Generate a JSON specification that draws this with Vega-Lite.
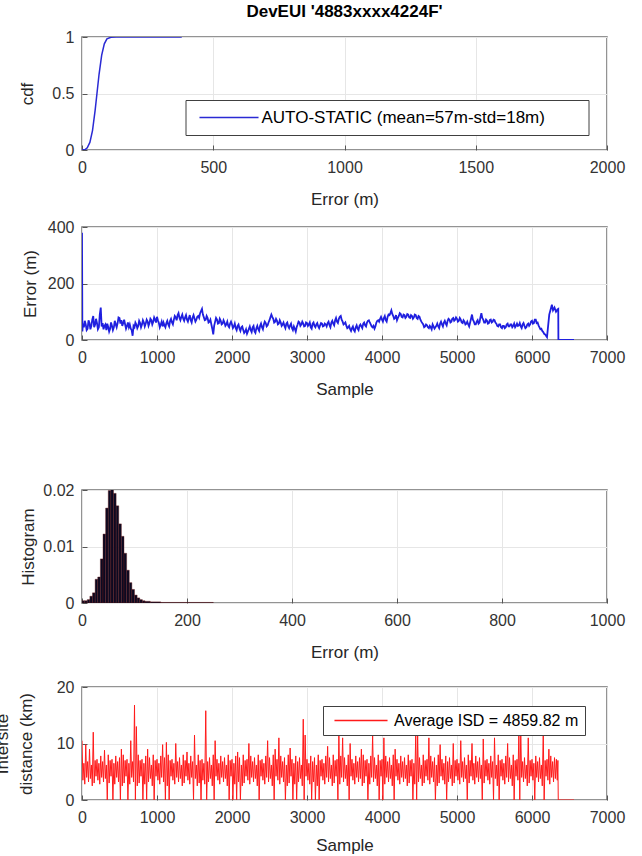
{
  "$schema": "https://vega.github.io/schema/vega-lite/v6.json",
  "padding": {"left": -8, "top": 2, "right": 5, "bottom": 0},
  "background": "white",
  "config": {
    "font": "Liberation Sans",
    "view": {"stroke": "#707070", "strokeWidth": 1.5},
    "axis": {
      "labelFont": "Liberation Sans", "labelFontSize": 16, "labelColor": "#333333",
      "titleFont": "Liberation Sans", "titleFontSize": 17, "titleFontWeight": "normal", "titleColor": "#262626",
      "domain": false, "grid": true, "gridColor": "#e6e6e6", "gridWidth": 1,
      "ticks": true, "tickSize": -5, "tickColor": "#555555", "tickWidth": 1,
      "labelFlush": false, "labelOverlap": false
    },
    "axisX": {"labelPadding": 14, "titlePadding": 16},
    "axisY": {"labelPadding": 13},
    "legend": {
      "orient": "none", "fillColor": "white", "strokeColor": "#404040",
      "symbolType": "M-4,0H4", "symbolStrokeWidth": 1.5, "labelFont": "Liberation Sans",
      "labelColor": "#000000", "labelLimit": 600
    },
    "title": {"font": "Liberation Sans", "fontSize": 17, "fontWeight": "bold", "color": "#000000", "offset": 8}
  },
  "datasets": {
    "cdf": [
      {"e": 0, "c": 0}, {"e": 12, "c": 0.004}, {"e": 20, "c": 0.02}, {"e": 30, "c": 0.067},
      {"e": 40, "c": 0.172}, {"e": 50, "c": 0.35}, {"e": 57, "c": 0.5}, {"e": 65, "c": 0.67},
      {"e": 75, "c": 0.84}, {"e": 85, "c": 0.94}, {"e": 95, "c": 0.983}, {"e": 110, "c": 0.998},
      {"e": 130, "c": 1}, {"e": 380, "c": 1}
    ],
    "err": [
      {"s":0,"v":380},{"s":5,"v":30},{"s":12,"v":58},{"s":25,"v":45},{"s":37,"v":68},{"s":50,"v":55},{"s":62,"v":35},{"s":75,"v":40},{"s":87,"v":70},{"s":100,"v":60},
      {"s":112,"v":38},{"s":125,"v":50},{"s":137,"v":72},{"s":150,"v":85},{"s":162,"v":45},{"s":175,"v":55},{"s":187,"v":75},{"s":200,"v":60},{"s":212,"v":38},{"s":225,"v":45},
      {"s":237,"v":90},{"s":250,"v":115},{"s":262,"v":48},{"s":275,"v":60},{"s":287,"v":38},{"s":300,"v":50},{"s":312,"v":55},{"s":325,"v":35},{"s":337,"v":58},{"s":350,"v":45},
      {"s":362,"v":30},{"s":375,"v":40},{"s":387,"v":62},{"s":400,"v":50},{"s":412,"v":35},{"s":425,"v":45},{"s":437,"v":68},{"s":450,"v":55},{"s":462,"v":45},{"s":475,"v":60},
      {"s":487,"v":80},{"s":500,"v":78},{"s":512,"v":58},{"s":525,"v":70},{"s":537,"v":50},{"s":550,"v":60},{"s":562,"v":72},{"s":575,"v":55},{"s":587,"v":40},{"s":600,"v":50},
      {"s":612,"v":62},{"s":625,"v":45},{"s":637,"v":55},{"s":650,"v":40},{"s":662,"v":35},{"s":675,"v":15},{"s":687,"v":50},{"s":700,"v":45},{"s":712,"v":62},{"s":725,"v":55},
      {"s":737,"v":42},{"s":750,"v":50},{"s":762,"v":68},{"s":775,"v":60},{"s":787,"v":45},{"s":800,"v":55},{"s":812,"v":70},{"s":825,"v":62},{"s":837,"v":48},{"s":850,"v":58},
      {"s":862,"v":72},{"s":875,"v":65},{"s":887,"v":50},{"s":900,"v":60},{"s":912,"v":75},{"s":925,"v":70},{"s":937,"v":55},{"s":950,"v":65},{"s":962,"v":80},{"s":975,"v":72},
      {"s":987,"v":62},{"s":1000,"v":82},{"s":1012,"v":70},{"s":1025,"v":60},{"s":1037,"v":45},{"s":1050,"v":55},{"s":1062,"v":65},{"s":1075,"v":48},{"s":1087,"v":62},{"s":1100,"v":52},
      {"s":1112,"v":45},{"s":1125,"v":60},{"s":1137,"v":68},{"s":1150,"v":55},{"s":1162,"v":48},{"s":1175,"v":68},{"s":1187,"v":75},{"s":1200,"v":62},{"s":1212,"v":55},{"s":1225,"v":72},
      {"s":1237,"v":85},{"s":1250,"v":80},{"s":1262,"v":70},{"s":1275,"v":88},{"s":1287,"v":95},{"s":1300,"v":78},{"s":1312,"v":70},{"s":1325,"v":82},{"s":1337,"v":90},{"s":1350,"v":75},
      {"s":1362,"v":68},{"s":1375,"v":80},{"s":1387,"v":88},{"s":1400,"v":72},{"s":1412,"v":65},{"s":1425,"v":78},{"s":1437,"v":88},{"s":1450,"v":70},{"s":1462,"v":62},{"s":1475,"v":80},
      {"s":1487,"v":88},{"s":1500,"v":76},{"s":1512,"v":65},{"s":1525,"v":72},{"s":1537,"v":82},{"s":1550,"v":85},{"s":1562,"v":78},{"s":1575,"v":95},{"s":1587,"v":102},{"s":1600,"v":110},
      {"s":1612,"v":90},{"s":1625,"v":80},{"s":1637,"v":70},{"s":1650,"v":72},{"s":1662,"v":85},{"s":1675,"v":78},{"s":1687,"v":62},{"s":1700,"v":65},{"s":1712,"v":72},{"s":1725,"v":55},
      {"s":1737,"v":40},{"s":1750,"v":20},{"s":1762,"v":50},{"s":1775,"v":65},{"s":1787,"v":78},{"s":1800,"v":72},{"s":1812,"v":58},{"s":1825,"v":60},{"s":1837,"v":75},{"s":1850,"v":68},
      {"s":1862,"v":55},{"s":1875,"v":58},{"s":1887,"v":70},{"s":1900,"v":62},{"s":1912,"v":50},{"s":1925,"v":55},{"s":1937,"v":65},{"s":1950,"v":50},{"s":1962,"v":45},{"s":1975,"v":58},
      {"s":1987,"v":65},{"s":2000,"v":55},{"s":2012,"v":42},{"s":2025,"v":48},{"s":2037,"v":58},{"s":2050,"v":42},{"s":2062,"v":35},{"s":2075,"v":50},{"s":2087,"v":55},{"s":2100,"v":40},
      {"s":2112,"v":32},{"s":2125,"v":45},{"s":2137,"v":48},{"s":2150,"v":35},{"s":2162,"v":25},{"s":2175,"v":30},{"s":2187,"v":38},{"s":2200,"v":22},{"s":2212,"v":30},{"s":2225,"v":40},
      {"s":2237,"v":48},{"s":2250,"v":35},{"s":2262,"v":28},{"s":2275,"v":45},{"s":2287,"v":50},{"s":2300,"v":30},{"s":2312,"v":25},{"s":2325,"v":42},{"s":2337,"v":50},{"s":2350,"v":38},
      {"s":2362,"v":32},{"s":2375,"v":50},{"s":2387,"v":58},{"s":2400,"v":45},{"s":2412,"v":38},{"s":2425,"v":55},{"s":2437,"v":65},{"s":2450,"v":60},{"s":2462,"v":48},{"s":2475,"v":52},
      {"s":2487,"v":62},{"s":2500,"v":70},{"s":2512,"v":80},{"s":2525,"v":90},{"s":2537,"v":82},{"s":2550,"v":75},{"s":2562,"v":62},{"s":2575,"v":65},{"s":2587,"v":75},{"s":2600,"v":68},
      {"s":2612,"v":55},{"s":2625,"v":58},{"s":2637,"v":70},{"s":2650,"v":62},{"s":2662,"v":50},{"s":2675,"v":55},{"s":2687,"v":62},{"s":2700,"v":50},{"s":2712,"v":42},{"s":2725,"v":58},
      {"s":2737,"v":62},{"s":2750,"v":48},{"s":2762,"v":42},{"s":2775,"v":52},{"s":2787,"v":58},{"s":2800,"v":42},{"s":2812,"v":35},{"s":2825,"v":48},{"s":2837,"v":40},{"s":2850,"v":30},
      {"s":2862,"v":45},{"s":2875,"v":55},{"s":2887,"v":65},{"s":2900,"v":62},{"s":2912,"v":50},{"s":2925,"v":55},{"s":2937,"v":65},{"s":2950,"v":58},{"s":2962,"v":48},{"s":2975,"v":50},
      {"s":2987,"v":62},{"s":3000,"v":60},{"s":3012,"v":50},{"s":3025,"v":55},{"s":3037,"v":62},{"s":3050,"v":45},{"s":3062,"v":40},{"s":3075,"v":58},{"s":3087,"v":62},{"s":3100,"v":50},
      {"s":3112,"v":45},{"s":3125,"v":55},{"s":3137,"v":60},{"s":3150,"v":48},{"s":3162,"v":42},{"s":3175,"v":52},{"s":3187,"v":60},{"s":3200,"v":58},{"s":3212,"v":48},{"s":3225,"v":50},
      {"s":3237,"v":58},{"s":3250,"v":55},{"s":3262,"v":48},{"s":3275,"v":60},{"s":3287,"v":65},{"s":3300,"v":52},{"s":3312,"v":45},{"s":3325,"v":62},{"s":3337,"v":68},{"s":3350,"v":58},
      {"s":3362,"v":52},{"s":3375,"v":70},{"s":3387,"v":78},{"s":3400,"v":65},{"s":3412,"v":60},{"s":3425,"v":75},{"s":3437,"v":82},{"s":3450,"v":85},{"s":3462,"v":72},{"s":3475,"v":65},
      {"s":3487,"v":55},{"s":3500,"v":58},{"s":3512,"v":62},{"s":3525,"v":50},{"s":3537,"v":42},{"s":3550,"v":45},{"s":3562,"v":50},{"s":3575,"v":38},{"s":3587,"v":32},{"s":3600,"v":42},
      {"s":3612,"v":48},{"s":3625,"v":35},{"s":3637,"v":30},{"s":3650,"v":45},{"s":3662,"v":52},{"s":3675,"v":40},{"s":3687,"v":35},{"s":3700,"v":50},{"s":3712,"v":55},{"s":3725,"v":48},
      {"s":3737,"v":42},{"s":3750,"v":58},{"s":3762,"v":62},{"s":3775,"v":52},{"s":3787,"v":48},{"s":3800,"v":62},{"s":3812,"v":68},{"s":3825,"v":70},{"s":3837,"v":62},{"s":3850,"v":55},
      {"s":3862,"v":48},{"s":3875,"v":45},{"s":3887,"v":50},{"s":3900,"v":40},{"s":3912,"v":48},{"s":3925,"v":62},{"s":3937,"v":68},{"s":3950,"v":70},{"s":3962,"v":65},{"s":3975,"v":75},
      {"s":3987,"v":82},{"s":4000,"v":72},{"s":4012,"v":65},{"s":4025,"v":78},{"s":4037,"v":85},{"s":4050,"v":70},{"s":4062,"v":65},{"s":4075,"v":82},{"s":4087,"v":90},{"s":4100,"v":88},
      {"s":4112,"v":95},{"s":4125,"v":105},{"s":4137,"v":92},{"s":4150,"v":85},{"s":4162,"v":75},{"s":4175,"v":78},{"s":4187,"v":88},{"s":4200,"v":70},{"s":4212,"v":78},{"s":4225,"v":85},
      {"s":4237,"v":95},{"s":4250,"v":92},{"s":4262,"v":82},{"s":4275,"v":80},{"s":4287,"v":90},{"s":4300,"v":88},{"s":4312,"v":78},{"s":4325,"v":82},{"s":4337,"v":92},{"s":4350,"v":90},
      {"s":4362,"v":80},{"s":4375,"v":78},{"s":4387,"v":88},{"s":4400,"v":85},{"s":4412,"v":75},{"s":4425,"v":80},{"s":4437,"v":90},{"s":4450,"v":88},{"s":4462,"v":78},{"s":4475,"v":75},
      {"s":4487,"v":85},{"s":4500,"v":82},{"s":4512,"v":72},{"s":4525,"v":65},{"s":4537,"v":60},{"s":4550,"v":55},{"s":4562,"v":45},{"s":4575,"v":48},{"s":4587,"v":55},{"s":4600,"v":52},
      {"s":4612,"v":45},{"s":4625,"v":42},{"s":4637,"v":50},{"s":4650,"v":45},{"s":4662,"v":38},{"s":4675,"v":55},{"s":4687,"v":48},{"s":4700,"v":40},{"s":4712,"v":45},{"s":4725,"v":50},
      {"s":4737,"v":58},{"s":4750,"v":48},{"s":4762,"v":42},{"s":4775,"v":58},{"s":4787,"v":65},{"s":4800,"v":55},{"s":4812,"v":48},{"s":4825,"v":62},{"s":4837,"v":68},{"s":4850,"v":58},
      {"s":4862,"v":52},{"s":4875,"v":68},{"s":4887,"v":75},{"s":4900,"v":72},{"s":4912,"v":62},{"s":4925,"v":65},{"s":4937,"v":75},{"s":4950,"v":78},{"s":4962,"v":68},{"s":4975,"v":72},
      {"s":4987,"v":80},{"s":5000,"v":75},{"s":5012,"v":65},{"s":5025,"v":68},{"s":5037,"v":78},{"s":5050,"v":72},{"s":5062,"v":62},{"s":5075,"v":60},{"s":5087,"v":70},{"s":5100,"v":65},
      {"s":5112,"v":55},{"s":5125,"v":58},{"s":5137,"v":65},{"s":5150,"v":55},{"s":5162,"v":48},{"s":5175,"v":62},{"s":5187,"v":75},{"s":5200,"v":90},{"s":5212,"v":72},{"s":5225,"v":65},
      {"s":5237,"v":55},{"s":5250,"v":55},{"s":5262,"v":65},{"s":5275,"v":70},{"s":5287,"v":58},{"s":5300,"v":62},{"s":5312,"v":80},{"s":5325,"v":95},{"s":5337,"v":78},{"s":5350,"v":72},
      {"s":5362,"v":62},{"s":5375,"v":62},{"s":5387,"v":72},{"s":5400,"v":68},{"s":5412,"v":58},{"s":5425,"v":60},{"s":5437,"v":70},{"s":5450,"v":72},{"s":5462,"v":62},{"s":5475,"v":65},
      {"s":5487,"v":72},{"s":5500,"v":70},{"s":5512,"v":62},{"s":5525,"v":58},{"s":5537,"v":50},{"s":5550,"v":48},{"s":5562,"v":55},{"s":5575,"v":55},{"s":5587,"v":45},{"s":5600,"v":42},
      {"s":5612,"v":50},{"s":5625,"v":50},{"s":5637,"v":42},{"s":5650,"v":45},{"s":5662,"v":55},{"s":5675,"v":58},{"s":5687,"v":48},{"s":5700,"v":48},{"s":5712,"v":55},{"s":5725,"v":55},
      {"s":5737,"v":45},{"s":5750,"v":50},{"s":5762,"v":58},{"s":5775,"v":45},{"s":5787,"v":50},{"s":5800,"v":58},{"s":5812,"v":50},{"s":5825,"v":52},{"s":5837,"v":60},{"s":5850,"v":48},
      {"s":5862,"v":42},{"s":5875,"v":55},{"s":5887,"v":60},{"s":5900,"v":50},{"s":5912,"v":42},{"s":5925,"v":45},{"s":5937,"v":55},{"s":5950,"v":58},{"s":5962,"v":50},{"s":5975,"v":55},
      {"s":5987,"v":65},{"s":6000,"v":68},{"s":6012,"v":58},{"s":6025,"v":60},{"s":6037,"v":72},{"s":6050,"v":72},{"s":6062,"v":60},{"s":6075,"v":62},{"s":6087,"v":52},{"s":6100,"v":45},
      {"s":6112,"v":38},{"s":6125,"v":40},{"s":6137,"v":32},{"s":6150,"v":28},{"s":6162,"v":22},{"s":6175,"v":20},{"s":6187,"v":15},{"s":6200,"v":10},{"s":6215,"v":50},{"s":6230,"v":90},
      {"s":6250,"v":110},{"s":6265,"v":125},{"s":6280,"v":105},{"s":6300,"v":115},{"s":6320,"v":100},{"s":6340,"v":108},{"s":6350,"v":110},{"s":6352,"v":0},{"s":6560,"v":0}
    ],
    "hist": [
      {"a":0,"b":5,"d":0.0004},{"a":5,"b":10,"d":0.0004},{"a":10,"b":15,"d":0.0006},{"a":15,"b":20,"d":0.0012},{"a":20,"b":25,"d":0.0018},
      {"a":25,"b":30,"d":0.0042},{"a":30,"b":35,"d":0.0046},{"a":35,"b":40,"d":0.0078},{"a":40,"b":45,"d":0.0122},{"a":45,"b":50,"d":0.0168},
      {"a":50,"b":55,"d":0.0199},{"a":55,"b":60,"d":0.0202},{"a":60,"b":65,"d":0.0194},{"a":65,"b":70,"d":0.0172},{"a":70,"b":75,"d":0.014},
      {"a":75,"b":80,"d":0.0118},{"a":80,"b":85,"d":0.0088},{"a":85,"b":90,"d":0.0058},{"a":90,"b":95,"d":0.0036},{"a":95,"b":100,"d":0.0024},
      {"a":100,"b":105,"d":0.0014},{"a":105,"b":110,"d":0.0009},{"a":110,"b":115,"d":0.0006},{"a":115,"b":120,"d":0.0004},{"a":120,"b":130,"d":0.0003},
      {"a":130,"b":150,"d":0.0002},{"a":150,"b":250,"d":0.0001}
    ],
    "isd": [
      {"s":0,"k":10.5},{"s":12,"k":3.5},{"s":25,"k":6.5},{"s":37,"k":2.8},{"s":50,"k":9.8},{"s":62,"k":4.0},{"s":75,"k":6.8},{"s":87,"k":3.2},{"s":100,"k":9.0},{"s":112,"k":3.8},
      {"s":125,"k":6.2},{"s":137,"k":2.5},{"s":150,"k":12.0},{"s":162,"k":3.0},{"s":175,"k":7.0},{"s":187,"k":4.2},{"s":200,"k":7.2},{"s":212,"k":3.5},{"s":225,"k":6.5},{"s":237,"k":2.8},
      {"s":250,"k":7.8},{"s":262,"k":4.0},{"s":275,"k":6.8},{"s":287,"k":3.2},{"s":300,"k":8.8},{"s":312,"k":3.8},{"s":325,"k":6.2},{"s":337,"k":0},{"s":350,"k":8.0},{"s":362,"k":3.0},
      {"s":375,"k":7.0},{"s":387,"k":4.2},{"s":400,"k":7.2},{"s":412,"k":0},{"s":425,"k":6.5},{"s":437,"k":2.8},{"s":450,"k":7.8},{"s":462,"k":4.0},{"s":475,"k":6.8},{"s":487,"k":3.2},
      {"s":500,"k":7.5},{"s":512,"k":0},{"s":525,"k":9.0},{"s":537,"k":2.5},{"s":550,"k":8.0},{"s":562,"k":3.0},{"s":575,"k":7.0},{"s":587,"k":4.2},{"s":600,"k":7.2},{"s":612,"k":0},
      {"s":625,"k":6.5},{"s":637,"k":2.8},{"s":650,"k":10.5},{"s":662,"k":4.0},{"s":675,"k":6.8},{"s":687,"k":3.2},{"s":700,"k":16.8},{"s":712,"k":0},{"s":725,"k":13.0},{"s":737,"k":2.5},
      {"s":750,"k":8.0},{"s":762,"k":3.0},{"s":775,"k":7.0},{"s":787,"k":4.2},{"s":800,"k":7.2},{"s":812,"k":0},{"s":825,"k":6.5},{"s":837,"k":2.8},{"s":850,"k":7.8},{"s":862,"k":0},
      {"s":875,"k":9.0},{"s":887,"k":3.2},{"s":900,"k":7.5},{"s":912,"k":3.8},{"s":925,"k":6.2},{"s":937,"k":2.5},{"s":950,"k":8.0},{"s":962,"k":0},{"s":975,"k":7.0},{"s":987,"k":4.2},
      {"s":1000,"k":7.2},{"s":1012,"k":3.5},{"s":1025,"k":6.5},{"s":1037,"k":2.8},{"s":1050,"k":7.8},{"s":1062,"k":4.0},{"s":1075,"k":9.8},{"s":1087,"k":3.2},{"s":1100,"k":7.5},{"s":1112,"k":0},
      {"s":1125,"k":10.2},{"s":1137,"k":2.5},{"s":1150,"k":8.0},{"s":1162,"k":0},{"s":1175,"k":7.0},{"s":1187,"k":4.2},{"s":1200,"k":7.2},{"s":1212,"k":3.5},{"s":1225,"k":6.5},{"s":1237,"k":2.8},
      {"s":1250,"k":10.0},{"s":1262,"k":4.0},{"s":1275,"k":6.8},{"s":1287,"k":3.2},{"s":1300,"k":7.5},{"s":1312,"k":3.8},{"s":1325,"k":6.2},{"s":1337,"k":2.5},{"s":1350,"k":8.0},{"s":1362,"k":3.0},
      {"s":1375,"k":7.0},{"s":1387,"k":4.2},{"s":1400,"k":8.5},{"s":1412,"k":3.5},{"s":1425,"k":6.5},{"s":1437,"k":2.8},{"s":1450,"k":7.8},{"s":1462,"k":4.0},{"s":1475,"k":6.8},{"s":1487,"k":0},
      {"s":1500,"k":11.5},{"s":1512,"k":3.8},{"s":1525,"k":6.2},{"s":1537,"k":2.5},{"s":1550,"k":8.0},{"s":1562,"k":3.0},{"s":1575,"k":7.0},{"s":1587,"k":0},{"s":1600,"k":7.2},{"s":1612,"k":3.5},
      {"s":1625,"k":6.5},{"s":1637,"k":2.8},{"s":1650,"k":15.8},{"s":1662,"k":0},{"s":1675,"k":6.8},{"s":1687,"k":3.2},{"s":1700,"k":7.5},{"s":1712,"k":3.8},{"s":1725,"k":6.2},{"s":1737,"k":2.5},
      {"s":1750,"k":8.0},{"s":1762,"k":0},{"s":1775,"k":10.5},{"s":1787,"k":4.2},{"s":1800,"k":7.2},{"s":1812,"k":3.5},{"s":1825,"k":6.5},{"s":1837,"k":2.8},{"s":1850,"k":7.8},{"s":1862,"k":4.0},
      {"s":1875,"k":6.8},{"s":1887,"k":3.2},{"s":1900,"k":7.5},{"s":1912,"k":3.8},{"s":1925,"k":6.2},{"s":1937,"k":2.5},{"s":1950,"k":8.0},{"s":1962,"k":0},{"s":1975,"k":7.0},{"s":1987,"k":4.2},
      {"s":2000,"k":7.2},{"s":2012,"k":0},{"s":2025,"k":6.5},{"s":2037,"k":2.8},{"s":2050,"k":7.8},{"s":2062,"k":0},{"s":2075,"k":8.5},{"s":2087,"k":3.2},{"s":2100,"k":7.5},{"s":2112,"k":0},
      {"s":2125,"k":6.2},{"s":2137,"k":2.5},{"s":2150,"k":8.0},{"s":2162,"k":3.0},{"s":2175,"k":7.0},{"s":2187,"k":4.2},{"s":2200,"k":7.2},{"s":2212,"k":3.5},{"s":2225,"k":10.0},{"s":2237,"k":2.8},
      {"s":2250,"k":7.8},{"s":2262,"k":4.0},{"s":2275,"k":6.8},{"s":2287,"k":3.2},{"s":2300,"k":7.5},{"s":2312,"k":3.8},{"s":2325,"k":6.2},{"s":2337,"k":2.5},{"s":2350,"k":8.0},{"s":2362,"k":0},
      {"s":2375,"k":7.0},{"s":2387,"k":4.2},{"s":2400,"k":7.2},{"s":2412,"k":3.5},{"s":2425,"k":6.5},{"s":2437,"k":2.8},{"s":2450,"k":7.8},{"s":2462,"k":4.0},{"s":2475,"k":10.5},{"s":2487,"k":3.2},
      {"s":2500,"k":7.5},{"s":2512,"k":3.8},{"s":2525,"k":6.2},{"s":2537,"k":2.5},{"s":2550,"k":8.0},{"s":2562,"k":0},{"s":2575,"k":9.0},{"s":2587,"k":4.2},{"s":2600,"k":7.2},{"s":2612,"k":3.5},
      {"s":2625,"k":11.0},{"s":2637,"k":2.8},{"s":2650,"k":7.8},{"s":2662,"k":4.0},{"s":2675,"k":6.8},{"s":2687,"k":3.2},{"s":2700,"k":7.5},{"s":2712,"k":0},{"s":2725,"k":6.2},{"s":2737,"k":2.5},
      {"s":2750,"k":8.0},{"s":2762,"k":3.0},{"s":2775,"k":9.2},{"s":2787,"k":4.2},{"s":2800,"k":7.2},{"s":2812,"k":0},{"s":2825,"k":6.5},{"s":2837,"k":2.8},{"s":2850,"k":7.8},{"s":2862,"k":0},
      {"s":2875,"k":6.8},{"s":2887,"k":3.2},{"s":2900,"k":7.5},{"s":2912,"k":3.8},{"s":2925,"k":6.2},{"s":2937,"k":2.5},{"s":2950,"k":14.3},{"s":2962,"k":0},{"s":2975,"k":11.5},{"s":2987,"k":4.2},
      {"s":3000,"k":7.2},{"s":3012,"k":3.5},{"s":3025,"k":6.5},{"s":3037,"k":2.8},{"s":3050,"k":7.8},{"s":3062,"k":0},{"s":3075,"k":6.8},{"s":3087,"k":3.2},{"s":3100,"k":7.5},{"s":3112,"k":0},
      {"s":3125,"k":6.2},{"s":3137,"k":2.5},{"s":3150,"k":8.0},{"s":3162,"k":0},{"s":3175,"k":7.0},{"s":3187,"k":4.2},{"s":3200,"k":7.2},{"s":3212,"k":3.5},{"s":3225,"k":6.5},{"s":3237,"k":2.8},
      {"s":3250,"k":7.8},{"s":3262,"k":4.0},{"s":3275,"k":9.5},{"s":3287,"k":3.2},{"s":3300,"k":7.5},{"s":3312,"k":3.8},{"s":3325,"k":6.2},{"s":3337,"k":2.5},{"s":3350,"k":8.0},{"s":3362,"k":3.0},
      {"s":3375,"k":7.0},{"s":3387,"k":4.2},{"s":3400,"k":7.2},{"s":3412,"k":0},{"s":3425,"k":11.5},{"s":3437,"k":2.8},{"s":3450,"k":7.8},{"s":3462,"k":4.0},{"s":3475,"k":11.0},{"s":3487,"k":3.2},
      {"s":3500,"k":7.5},{"s":3512,"k":3.8},{"s":3525,"k":6.2},{"s":3537,"k":2.5},{"s":3550,"k":8.0},{"s":3562,"k":0},{"s":3575,"k":10.0},{"s":3587,"k":4.2},{"s":3600,"k":7.2},{"s":3612,"k":3.5},
      {"s":3625,"k":6.5},{"s":3637,"k":2.8},{"s":3650,"k":7.8},{"s":3662,"k":4.0},{"s":3675,"k":6.8},{"s":3687,"k":3.2},{"s":3700,"k":7.5},{"s":3712,"k":3.8},{"s":3725,"k":9.0},{"s":3737,"k":2.5},
      {"s":3750,"k":8.0},{"s":3762,"k":3.0},{"s":3775,"k":7.0},{"s":3787,"k":4.2},{"s":3800,"k":7.2},{"s":3812,"k":0},{"s":3825,"k":6.5},{"s":3837,"k":2.8},{"s":3850,"k":7.8},{"s":3862,"k":4.0},
      {"s":3875,"k":11.5},{"s":3887,"k":3.2},{"s":3900,"k":7.5},{"s":3912,"k":3.8},{"s":3925,"k":6.2},{"s":3937,"k":2.5},{"s":3950,"k":8.0},{"s":3962,"k":0},{"s":3975,"k":7.0},{"s":3987,"k":4.2},
      {"s":4000,"k":7.2},{"s":4012,"k":0},{"s":4025,"k":11.0},{"s":4037,"k":2.8},{"s":4050,"k":7.8},{"s":4062,"k":4.0},{"s":4075,"k":6.8},{"s":4087,"k":3.2},{"s":4100,"k":7.5},{"s":4112,"k":3.8},
      {"s":4125,"k":6.2},{"s":4137,"k":2.5},{"s":4150,"k":8.0},{"s":4162,"k":0},{"s":4175,"k":9.0},{"s":4187,"k":4.2},{"s":4200,"k":7.2},{"s":4212,"k":3.5},{"s":4225,"k":6.5},{"s":4237,"k":2.8},
      {"s":4250,"k":7.8},{"s":4262,"k":4.0},{"s":4275,"k":6.8},{"s":4287,"k":3.2},{"s":4300,"k":7.5},{"s":4312,"k":3.8},{"s":4325,"k":6.2},{"s":4337,"k":2.5},{"s":4350,"k":8.0},{"s":4362,"k":3.0},
      {"s":4375,"k":7.0},{"s":4387,"k":4.2},{"s":4400,"k":7.2},{"s":4412,"k":0},{"s":4425,"k":6.5},{"s":4437,"k":2.8},{"s":4450,"k":12.0},{"s":4462,"k":0},{"s":4475,"k":11.5},{"s":4487,"k":3.2},
      {"s":4500,"k":7.5},{"s":4512,"k":3.8},{"s":4525,"k":6.2},{"s":4537,"k":2.5},{"s":4550,"k":8.0},{"s":4562,"k":3.0},{"s":4575,"k":7.0},{"s":4587,"k":4.2},{"s":4600,"k":7.2},{"s":4612,"k":3.5},
      {"s":4625,"k":11.0},{"s":4637,"k":2.8},{"s":4650,"k":7.8},{"s":4662,"k":4.0},{"s":4675,"k":6.8},{"s":4687,"k":3.2},{"s":4700,"k":7.5},{"s":4712,"k":0},{"s":4725,"k":6.2},{"s":4737,"k":2.5},
      {"s":4750,"k":8.0},{"s":4762,"k":3.0},{"s":4775,"k":9.8},{"s":4787,"k":4.2},{"s":4800,"k":7.2},{"s":4812,"k":3.5},{"s":4825,"k":6.5},{"s":4837,"k":2.8},{"s":4850,"k":7.8},{"s":4862,"k":0},
      {"s":4875,"k":6.8},{"s":4887,"k":3.2},{"s":4900,"k":7.5},{"s":4912,"k":3.8},{"s":4925,"k":6.2},{"s":4937,"k":2.5},{"s":4950,"k":10.0},{"s":4962,"k":3.0},{"s":4975,"k":7.0},{"s":4987,"k":4.2},
      {"s":5000,"k":7.2},{"s":5012,"k":3.5},{"s":5025,"k":6.5},{"s":5037,"k":2.8},{"s":5050,"k":10.5},{"s":5062,"k":4.0},{"s":5075,"k":6.8},{"s":5087,"k":3.2},{"s":5100,"k":7.5},{"s":5112,"k":3.8},
      {"s":5125,"k":6.2},{"s":5137,"k":0},{"s":5150,"k":8.0},{"s":5162,"k":3.0},{"s":5175,"k":7.0},{"s":5187,"k":4.2},{"s":5200,"k":10.0},{"s":5212,"k":3.5},{"s":5225,"k":6.5},{"s":5237,"k":2.8},
      {"s":5250,"k":7.8},{"s":5262,"k":4.0},{"s":5275,"k":6.8},{"s":5287,"k":3.2},{"s":5300,"k":7.5},{"s":5312,"k":3.8},{"s":5325,"k":6.2},{"s":5337,"k":0},{"s":5350,"k":10.8},{"s":5362,"k":3.0},
      {"s":5375,"k":7.0},{"s":5387,"k":4.2},{"s":5400,"k":7.2},{"s":5412,"k":3.5},{"s":5425,"k":6.5},{"s":5437,"k":2.8},{"s":5450,"k":7.8},{"s":5462,"k":4.0},{"s":5475,"k":6.8},{"s":5487,"k":0},
      {"s":5500,"k":11.0},{"s":5512,"k":3.8},{"s":5525,"k":6.2},{"s":5537,"k":2.5},{"s":5550,"k":8.0},{"s":5562,"k":0},{"s":5575,"k":7.0},{"s":5587,"k":4.2},{"s":5600,"k":7.2},{"s":5612,"k":3.5},
      {"s":5625,"k":6.5},{"s":5637,"k":2.8},{"s":5650,"k":7.8},{"s":5662,"k":4.0},{"s":5675,"k":10.0},{"s":5687,"k":3.2},{"s":5700,"k":7.5},{"s":5712,"k":3.8},{"s":5725,"k":6.2},{"s":5737,"k":2.5},
      {"s":5750,"k":8.0},{"s":5762,"k":0},{"s":5775,"k":7.0},{"s":5787,"k":4.2},{"s":5800,"k":7.2},{"s":5812,"k":3.5},{"s":5825,"k":12.0},{"s":5837,"k":0},{"s":5850,"k":12.0},{"s":5862,"k":4.0},
      {"s":5875,"k":6.8},{"s":5887,"k":3.2},{"s":5900,"k":7.5},{"s":5912,"k":3.8},{"s":5925,"k":6.2},{"s":5937,"k":2.5},{"s":5950,"k":11.0},{"s":5962,"k":3.0},{"s":5975,"k":7.0},{"s":5987,"k":4.2},
      {"s":6000,"k":7.2},{"s":6012,"k":3.5},{"s":6025,"k":6.5},{"s":6037,"k":0},{"s":6050,"k":7.8},{"s":6062,"k":4.0},{"s":6075,"k":6.8},{"s":6087,"k":3.2},{"s":6100,"k":7.5},{"s":6112,"k":3.8},
      {"s":6125,"k":6.2},{"s":6137,"k":2.5},{"s":6150,"k":12.0},{"s":6162,"k":0},{"s":6175,"k":7.0},{"s":6187,"k":4.2},{"s":6200,"k":7.2},{"s":6212,"k":3.5},{"s":6225,"k":9.0},{"s":6237,"k":2.8},
      {"s":6250,"k":7.8},{"s":6262,"k":4.0},{"s":6275,"k":6.8},{"s":6287,"k":3.2},{"s":6300,"k":7.5},{"s":6312,"k":3.8},{"s":6325,"k":7.2},{"s":6337,"k":3.5},{"s":6345,"k":7.0},{"s":6350,"k":0},
      {"s":6560,"k":0}
    ]
  },
  "resolve": {"scale": {"color": "independent"}},
  "spacing": 83,
  "vconcat": [
    {
      "resolve": {"scale": {"color": "independent"}},
      "spacing": 10,
      "vconcat": [
        {
          "title": {"text": "DevEUI '4883xxxx4224F'"},
          "width": 525, "height": 113,
          "data": {"name": "cdf"},
          "mark": {"type": "line", "strokeWidth": 1.5, "clip": true},
          "encoding": {
            "x": {"field": "e", "type": "quantitative", "scale": {"domain": [0, 2000], "nice": false}, "axis": {"title": "Error (m)", "values": [0, 500, 1000, 1500, 2000], "format": "~r"}},
            "y": {"field": "c", "type": "quantitative", "scale": {"domain": [0, 1], "nice": false}, "axis": {"title": "cdf", "values": [0, 0.5, 1], "format": "~r", "titlePadding": 15}},
            "color": {"datum": "AUTO-STATIC (mean=57m-std=18m)", "scale": {"range": ["#2a2ad4"]},
              "legend": {"title": null, "legendX": 103.5, "legendY": 63, "padding": 9, "labelFontSize": 17, "symbolSize": 218, "symbolOffset": 26, "labelOffset": 24, "symbolType": "M-4,0H4M47,0"}}
          }
        },
        {
          "width": 525, "height": 113,
          "data": {"name": "err"},
          "mark": {"type": "line", "strokeWidth": 1.8, "color": "#1f1fdf", "clip": true},
          "encoding": {
            "x": {"field": "s", "type": "quantitative", "scale": {"domain": [0, 7000], "nice": false}, "axis": {"title": "Sample", "values": [0, 1000, 2000, 3000, 4000, 5000, 6000, 7000], "format": "~r"}},
            "y": {"field": "v", "type": "quantitative", "scale": {"domain": [0, 400], "nice": false}, "axis": {"title": "Error (m)", "values": [0, 200, 400], "format": "~r", "titlePadding": 8}}
          }
        }
      ]
    },
    {
      "resolve": {"scale": {"color": "independent"}},
      "spacing": 17,
      "vconcat": [
        {
          "width": 525, "height": 113,
          "data": {"name": "hist"},
          "mark": {"type": "bar", "color": "#0b0a22", "stroke": "#6a1414", "strokeWidth": 0.4, "clip": true},
          "encoding": {
            "x": {"field": "a", "type": "quantitative", "scale": {"domain": [0, 1000], "nice": false}, "axis": {"title": "Error (m)", "values": [0, 200, 400, 600, 800, 1000], "format": "~r"}},
            "x2": {"field": "b"},
            "y": {"field": "d", "type": "quantitative", "scale": {"domain": [0, 0.02], "nice": false}, "axis": {"title": "Histogram", "values": [0, 0.01, 0.02], "format": "~r", "titlePadding": 5}},
            "y2": {"datum": 0}
          }
        },
        {
          "width": 525, "height": 113,
          "data": {"name": "isd"},
          "mark": {"type": "line", "strokeWidth": 1, "clip": true},
          "encoding": {
            "x": {"field": "s", "type": "quantitative", "scale": {"domain": [0, 7000], "nice": false}, "axis": {"title": "Sample", "values": [0, 1000, 2000, 3000, 4000, 5000, 6000, 7000], "format": "~r", "titlePadding": 12}},
            "y": {"field": "k", "type": "quantitative", "scale": {"domain": [0, 20], "nice": false}, "axis": {"title": ["Intersite", "distance (km)"], "titleLineHeight": 24, "values": [0, 10, 20], "format": "~r", "titlePadding": 21}},
            "color": {"datum": "Average ISD = 4859.82 m", "scale": {"range": ["#ff1a1a"]},
              "legend": {"title": null, "legendX": 241, "legendY": 19, "padding": 6.5, "labelFontSize": 16, "symbolSize": 176, "symbolOffset": 23.5, "labelOffset": 25}}
          }
        }
      ]
    }
  ]
}
